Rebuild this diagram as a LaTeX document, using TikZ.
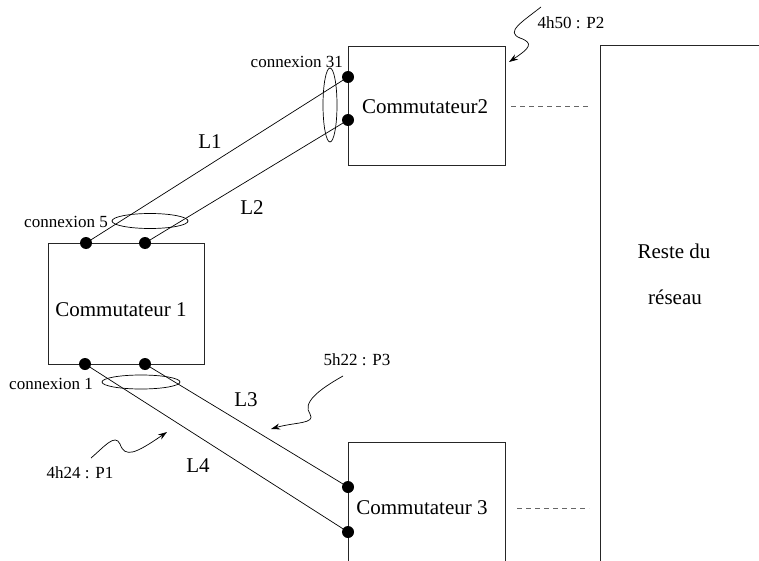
\documentclass[tikz,border=0pt]{standalone}
\usepackage{fontspec}
\setmainfont{Liberation Serif}
\usetikzlibrary{arrows.meta}
\begin{document}
\begin{tikzpicture}[x=1pt,y=-1pt,
  boxline/.style={line width=1pt, draw=black!85},
  link/.style={line width=0.7pt},
  port/.style={circle, fill=black, inner sep=0pt, minimum size=12pt},
  big/.style={inner sep=0pt, font=\fontsize{21}{25}\selectfont},
  small/.style={inner sep=0pt, font=\fontsize{17}{20}\selectfont},
  ring/.style={line width=0.7pt},
  event/.style={line width=0.7pt, -{Stealth[length=9pt,width=6pt]}},
  stub/.style={line width=0.7pt, draw=black!60, dash pattern=on 5pt off 4pt}]
\useasboundingbox (0,0) rectangle (759,561);

% switches
\draw[boxline] (48,243) rectangle (204,364);
\node[big] (c1) at (121,310) {Commutateur 1};
\draw[boxline] (348,47) rectangle (505,166);
\node[big] (c2) at (425,107) {Commutateur2};
\draw[boxline] (348,561) -- (348,442) -- (505,442) -- (505,561);
\node[big] (c3) at (422,508) {Commutateur 3};
% rest of network
\draw[boxline] (600,561) -- (600,46) -- (759,46);
\node[big] (r1) at (674,251) {Reste du};
\node[big] (r2) at (675,297) {réseau};

% ports
\node[port] (p1a) at (86,243) {};
\node[port] (p1b) at (145,243) {};
\node[port] (p1c) at (85,364) {};
\node[port] (p1d) at (145,364) {};
\node[port] (p2a) at (348,77) {};
\node[port] (p2b) at (348,120) {};
\node[port] (p3a) at (348,487) {};
\node[port] (p3b) at (348,532) {};

% links
\draw[link] (p1a.center) -- (p2a.center);
\draw[link] (p1b.center) -- (p2b.center);
\draw[link] (p1d.center) -- (p3a.center);
\draw[link] (p1c.center) -- (p3b.center);

\node[big] (l1) at (210,142) {L1};
\node[big] (l2) at (252,208) {L2};
\node[big] (l3) at (246,400) {L3};
\node[big] (l4) at (198,466) {L4};

% connection groups
\draw[ring] (330,105) ellipse [x radius=7, y radius=37];
\draw[ring] (150,221) ellipse [x radius=38, y radius=7.5];
\draw[ring] (141,382) ellipse [x radius=39, y radius=7];
\node[small, anchor=east] (k31) at (343,62) {connexion 31};
\node[small, anchor=east] (k5) at (108,222) {connexion 5};
\node[small, anchor=east] (k1) at (93,384) {connexion 1};

% dashed continuations
\coordinate (d2a) at (511,106); \coordinate (d2b) at (589,106);
\coordinate (d3a) at (517,508); \coordinate (d3b) at (589,508);
\draw[stub] (d2a) -- (d2b);
\draw[stub] (d3a) -- (d3b);

% events
\node[small] (e2) at (571,23) {4h50 : P2};
\coordinate (e2s) at (541,7); \coordinate (e2t) at (509,62);
\draw[event] (e2s) .. controls (522,22) and (505,32) .. (520,38)
  .. controls (534,43) and (530,48) .. (e2t);

\node[small] (e3) at (357,360) {5h22 : P3};
\coordinate (e3s) at (343,376); \coordinate (e3t) at (271,429);
\draw[event] (e3s) .. controls (318,390) and (302,403) .. (310,414)
  .. controls (316,424) and (295,422) .. (e3t);

\node[small] (e1) at (80,473) {4h24 : P1};
\coordinate (e1s) at (91,458); \coordinate (e1t) at (167,432);
\draw[event] (e1s) .. controls (104,447) and (115,433) .. (120,444)
  .. controls (125,458) and (135,454) .. (e1t);
\end{tikzpicture}
\end{document}
